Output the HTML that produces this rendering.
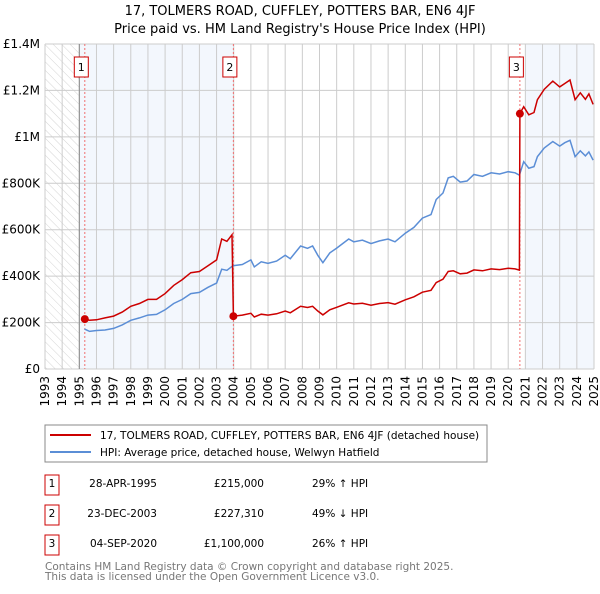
<!DOCTYPE html>
<html><head><meta charset="utf-8"><style>
body{margin:0;background:#fff;font-family:"DejaVu Sans","Liberation Sans",sans-serif;}
svg text{font-family:"DejaVu Sans","Liberation Sans",sans-serif;}
</style></head><body>
<svg id="c" width="600" height="590">
<defs><pattern id="hatch" width="6" height="6" patternUnits="userSpaceOnUse" patternTransform="rotate(-45)"><line x1="0" y1="0" x2="0" y2="6" stroke="#d4d4d4" stroke-width="1"/></pattern></defs>
<text x="300" y="15" text-anchor="middle" font-size="13">17, TOLMERS ROAD, CUFFLEY, POTTERS BAR, EN6 4JF</text>
<text x="300" y="33" text-anchor="middle" font-size="13">Price paid vs. HM Land Registry's House Price Index (HPI)</text>
<g id="plot"></g>
<rect x="45" y="425" width="442" height="37" fill="none" stroke="#888"/>
<line x1="50" y1="435" x2="91" y2="435" stroke="#cc0000" stroke-width="2"/>
<text x="100" y="439" font-size="10.5">17, TOLMERS ROAD, CUFFLEY, POTTERS BAR, EN6 4JF (detached house)</text>
<line x1="50" y1="452" x2="91" y2="452" stroke="#5b8ed6" stroke-width="2"/>
<text x="100" y="456" font-size="10.5">HPI: Average price, detached house, Welwyn Hatfield</text>
<g font-size="10.5">
<rect x="45" y="475" width="14" height="20" fill="none" stroke="#cc0000"/><text x="52" y="487" text-anchor="middle">1</text>
<text x="157" y="487" text-anchor="end">28-APR-1995</text><text x="264" y="487" text-anchor="end">£215,000</text><text x="312" y="487">29% ↑ HPI</text>
<rect x="45" y="505" width="14" height="20" fill="none" stroke="#cc0000"/><text x="52" y="517" text-anchor="middle">2</text>
<text x="157" y="517" text-anchor="end">23-DEC-2003</text><text x="264" y="517" text-anchor="end">£227,310</text><text x="312" y="517">49% ↓ HPI</text>
<rect x="45" y="535" width="14" height="20" fill="none" stroke="#cc0000"/><text x="52" y="547" text-anchor="middle">3</text>
<text x="157" y="547" text-anchor="end">04-SEP-2020</text><text x="264" y="547" text-anchor="end">£1,100,000</text><text x="312" y="547">26% ↑ HPI</text>
</g>
<text x="45" y="570" font-size="10.5" fill="#777">Contains HM Land Registry data © Crown copyright and database right 2025.</text>
<text x="45" y="580" font-size="10.5" fill="#777">This data is licensed under the Open Government Licence v3.0.</text>
</svg>
<script>
const yTicks=[0,200000,400000,600000,800000,1000000,1200000,1400000];
const yTickLabels=["£0","£200K","£400K","£600K","£800K","£1M","£1.2M","£1.4M"];
const xYears=[1993,1994,1995,1996,1997,1998,1999,2000,2001,2002,2003,2004,2005,2006,2007,2008,2009,2010,2011,2012,2013,2014,2015,2016,2017,2018,2019,2020,2021,2022,2023,2024,2025];
const saleYears=[1995.32,2003.98,2020.68];
const salePrices=[215000,227310,1100000];
const hpiYears=[1995.3,1995.6,1996.0,1996.5,1997.0,1997.5,1998.0,1998.5,1999.0,1999.5,2000.0,2000.5,2001.0,2001.5,2002.0,2002.5,2003.0,2003.3,2003.6,2003.95,2004.5,2005.0,2005.2,2005.6,2006.0,2006.5,2007.0,2007.3,2007.9,2008.3,2008.6,2008.9,2009.2,2009.6,2010.0,2010.7,2011.0,2011.5,2012.0,2012.5,2013.0,2013.4,2014.0,2014.5,2015.0,2015.5,2015.8,2016.2,2016.5,2016.8,2017.2,2017.6,2018.0,2018.5,2019.0,2019.5,2020.0,2020.4,2020.65,2020.9,2021.2,2021.5,2021.7,2022.1,2022.6,2023.0,2023.3,2023.6,2023.9,2024.2,2024.5,2024.7,2024.95];
const hpiValues=[172,162,166,168,175,190,210,220,232,235,255,282,300,325,330,352,370,430,425,445,450,470,440,462,455,465,490,475,530,520,530,490,458,500,521,560,548,555,540,552,560,548,585,610,650,665,730,758,823,830,805,810,838,830,845,840,850,845,835,893,865,872,915,952,980,960,975,985,915,940,918,935,900];
const redYears=[1995.32,1995.6,1996.0,1996.5,1997.0,1997.5,1998.0,1998.5,1999.0,1999.5,2000.0,2000.5,2001.0,2001.5,2002.0,2002.5,2003.0,2003.3,2003.6,2003.9,2003.98,2004.5,2005.0,2005.2,2005.6,2006.0,2006.5,2007.0,2007.3,2007.9,2008.3,2008.6,2008.9,2009.2,2009.6,2010.0,2010.7,2011.0,2011.5,2012.0,2012.5,2013.0,2013.4,2014.0,2014.5,2015.0,2015.5,2015.8,2016.2,2016.5,2016.8,2017.2,2017.6,2018.0,2018.5,2019.0,2019.5,2020.0,2020.4,2020.65,2020.68,2020.9,2021.2,2021.5,2021.7,2022.1,2022.6,2023.0,2023.3,2023.6,2023.9,2024.2,2024.5,2024.7,2024.95];
const redValues=[215,210,212,220,228,245,270,282,300,300,325,360,385,415,420,445,470,560,550,578,227.31,232,240,224,236,232,238,250,242,270,265,270,250,233,255,266,285,280,283,275,282,286,279,298,311,331,339,372,387,420,423,410,413,427,423,431,428,434,431,426,1100,1130,1095,1105,1160,1205,1240,1215,1230,1245,1160,1190,1162,1185,1140];

const X0=45,X1=594,Y0=369,Y1=44;
const xs=y=>X0+(y-1993)/(2025-1993)*(X1-X0);
const ys=v=>Y0-v/1400000*(Y0-Y1);
const NS="http://www.w3.org/2000/svg";
const g=document.getElementById('plot');
function mk(t,a,p){const e=document.createElementNS(NS,t);for(const k in a)e.setAttribute(k,a[k]);(p||g).appendChild(e);return e;}

let e=mk('rect',{x:X0,y:Y1,width:xs(1995)-X0,height:Y0-Y1,fill:'url(#hatch)'});


e=mk('rect',{x:xs(1995),y:Y1,width:xs(saleYears[1])-xs(1995),height:Y0-Y1,fill:'#eef3fc',opacity:0.7});


e=mk('rect',{x:xs(2021),y:Y1,width:X1-xs(2021),height:Y0-Y1,fill:'#eef3fc',opacity:0.7});



xYears.forEach(yr=>{
  const x=xs(yr);
  e=mk('line',{x1:x,y1:Y1,x2:x,y2:Y0,stroke:'#ccc'});
  
  
  e=mk('text',{x:0,y:0,'font-size':12,'text-anchor':'end',transform:`translate(${x+4},${Y0+7}) rotate(-90)`});
  e.textContent=yr;
  
  
});
yTicks.forEach((v,i)=>{
  const y=ys(v);
  e=mk('line',{x1:X0,y1:y,x2:X1,y2:y,stroke:'#ccc'});
  
  
  e=mk('text',{x:X0-5,y:y+4,'font-size':12,'text-anchor':'end'});
  e.textContent=yTickLabels[i];
  
  
});
e=mk('line',{x1:xs(1995),y1:Y1,x2:xs(1995),y2:Y0,stroke:'#888'});



saleYears.forEach((yr,i)=>{
  e=mk('line',{x1:xs(yr),y1:Y1,x2:xs(yr),y2:Y0,stroke:'#f07070','stroke-dasharray':'2,2'});
  
  
  const bx=xs(yr)-10.5;
  e=mk('rect',{x:bx,y:57,width:14,height:20,fill:'#fff',stroke:'#cc0000'});
  
  
  e=mk('text',{x:bx+7,y:71,'font-size':11,'text-anchor':'middle'});
  e.textContent=String(i+1);
  
  
});

const path=(xa,va,sc)=>xa.map((x,i)=>(i?'L':'M')+xs(x).toFixed(1)+','+ys(va[i]*sc).toFixed(1)).join('');
e=mk('path',{d:path(hpiYears,hpiValues,1000),fill:'none',stroke:'#5b8ed6','stroke-width':1.5});


e=mk('path',{d:path(redYears,redValues,1000),fill:'none',stroke:'#cc0000','stroke-width':1.5});


saleYears.forEach((yr,i)=>{
  e=mk('circle',{cx:xs(yr),cy:ys(salePrices[i]),r:4,fill:'#cc0000'});
  
  
});
</script>
</body></html>
